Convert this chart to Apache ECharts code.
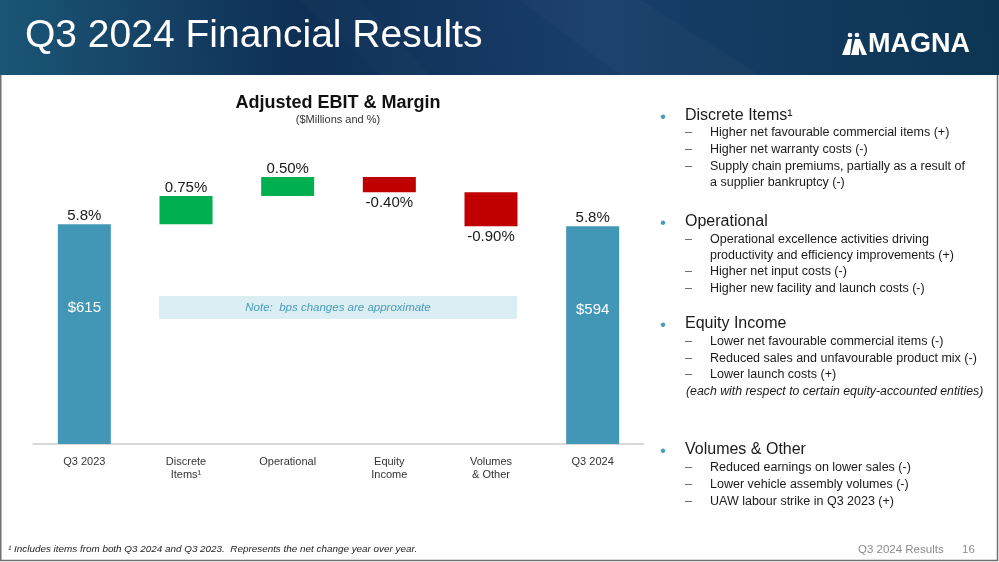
<!DOCTYPE html>
<html><head><meta charset="utf-8">
<script src="https://cdn.jsdelivr.net/npm/echarts@6/dist/echarts.min.js"></script>
<style>html,body{margin:0;padding:0;background:#fff}#c{width:999px;height:562px}</style>
</head><body><div id="c"></div>
<script>
// ---- data ----
const categories = ['Q3 2023', 'Discrete\nItems\u00B9', 'Operational', 'Equity\nIncome', 'Volumes\n& Other', 'Q3 2024'];
const startMargin = 5.8;
const deltas = [0.75, 0.50, -0.40, -0.90];
const endMargin = 5.75;
const marginLabels = ['5.8%', '0.75%', '0.50%', '-0.40%', '-0.90%', '5.8%'];
const ebitLabels = ['$615', '', '', '', '', '$594'];

const FONT = '"Liberation Sans", Arial, sans-serif';
const BLUE = '#4397B6', GREEN = '#00B050', RED = '#C00000';

// build waterfall
const base = [0], vals = [startMargin], colors = [BLUE];
let cum = startMargin;
deltas.forEach(d => {
  if (d >= 0) { base.push(cum); vals.push(d); cum += d; colors.push(GREEN); }
  else { cum += d; base.push(cum); vals.push(-d); colors.push(RED); }
});
base.push(0); vals.push(endMargin); colors.push(BLUE);
const signs = [1].concat(deltas.map(d => d >= 0 ? 1 : -1)).concat([1]);

const mainData = vals.map((v, i) => ({
  value: v,
  itemStyle: { color: colors[i] },
  label: {
    show: true,
    position: signs[i] > 0 ? 'top' : 'bottom',
    distance: signs[i] > 0 ? 1 : 3,
    formatter: marginLabels[i],
    color: '#1a1a1a', fontSize: 15, fontFamily: FONT
  }
}));
const ebitData = ebitLabels.map((t, i) => t ? { value: vals[i], label: { show: true, formatter: t } } : null);

// ---- right panel text ----
const panel = [
  { type: 'h', y: 116, text: 'Discrete Items\u00B9' },
  { type: 's', y: 133, text: 'Higher net favourable commercial items (+)' },
  { type: 's', y: 150, text: 'Higher net warranty costs (-)' },
  { type: 's', y: 167, text: 'Supply chain premiums, partially as a result of' },
  { type: 'c', y: 183, text: 'a supplier bankruptcy (-)' },
  { type: 'h', y: 222, text: 'Operational' },
  { type: 's', y: 240, text: 'Operational excellence activities driving' },
  { type: 'c', y: 256, text: 'productivity and efficiency improvements (+)' },
  { type: 's', y: 272, text: 'Higher net input costs (-)' },
  { type: 's', y: 289, text: 'Higher new facility and launch costs (-)' },
  { type: 'h', y: 324, text: 'Equity Income' },
  { type: 's', y: 342, text: 'Lower net favourable commercial items (-)' },
  { type: 's', y: 359, text: 'Reduced sales and unfavourable product mix (-)' },
  { type: 's', y: 375, text: 'Lower launch costs (+)' },
  { type: 'i', y: 392, text: '(each with respect to certain equity-accounted entities)' },
  { type: 'h', y: 450, text: 'Volumes & Other' },
  { type: 's', y: 468, text: 'Reduced earnings on lower sales (-)' },
  { type: 's', y: 485, text: 'Lower vehicle assembly volumes (-)' },
  { type: 's', y: 502, text: 'UAW labour strike in Q3 2023 (+)' }
];

function txt(x, y, text, font, fill, align, extra) {
  return Object.assign({ type: 'text', x: x, y: y, silent: true,
    style: { text: text, font: font, fill: fill, textAlign: align || 'left', textVerticalAlign: 'middle' } }, extra || {});
}

const graphics = [];
// header
graphics.push({ type: 'rect', shape: { x: 0, y: 0, width: 999, height: 75 }, silent: true,
  style: { fill: new echarts.graphic.LinearGradient(0, 1, 1, 0, [
    { offset: 0, color: '#1b5676' }, { offset: 0.3, color: '#0f2f55' },
    { offset: 0.6, color: '#183e69' }, { offset: 1, color: '#0c3553' }]) } });
graphics.push({ type: 'polygon', silent: true, shape: { points: [[520, 0], [640, 0], [760, 75], [620, 75]] },
  style: { fill: 'rgba(255,255,255,0.025)' } });
graphics.push({ type: 'polygon', silent: true, shape: { points: [[300, 0], [360, 0], [430, 75], [380, 75]] },
  style: { fill: 'rgba(255,255,255,0.015)' } });
graphics.push(txt(25, 36, 'Q3 2024 Financial Results', '39px ' + FONT, '#ffffff'));
// logo
graphics.push({ type: 'polygon', silent: true, shape: { points: [[842, 55], [848, 39], [852, 39], [850, 55]] }, style: { fill: '#fff' } });
graphics.push({ type: 'polygon', silent: true, shape: { points: [[851, 55], [855, 39], [859, 39], [859, 55]] }, style: { fill: '#fff' } });
graphics.push({ type: 'polygon', silent: true, shape: { points: [[856, 39], [860, 39], [867, 55], [862, 55]] }, style: { fill: '#fff' } });
graphics.push({ type: 'circle', silent: true, shape: { cx: 850, cy: 35, r: 2.3 }, style: { fill: '#fff' } });
graphics.push({ type: 'circle', silent: true, shape: { cx: 857, cy: 35, r: 2.3 }, style: { fill: '#fff' } });
graphics.push(txt(868, 45, 'MAGNA', 'bold 27px ' + FONT, '#ffffff'));

// chart titles
graphics.push(txt(338, 103, 'Adjusted EBIT & Margin', 'bold 18px ' + FONT, '#111', 'center'));
graphics.push(txt(338, 120, '($Millions and %)', '11px ' + FONT, '#333', 'center'));

// note box
graphics.push({ type: 'rect', silent: true, shape: { x: 159, y: 296, width: 358, height: 23 }, style: { fill: '#DAEEF3' } });
graphics.push(txt(338, 307.5, 'Note:  bps changes are approximate', 'italic 11.5px ' + FONT, '#4a9bb6', 'center'));

// right panel
panel.forEach(p => {
  if (p.type === 'h') {
    graphics.push(txt(660, p.y + 1, '\u2022', '17px ' + FONT, '#4a9bb6'));
    graphics.push(txt(685, p.y, p.text, '16px ' + FONT, '#1a1a1a'));
  } else if (p.type === 's') {
    graphics.push(txt(685, p.y, '\u2013', '12.5px ' + FONT, '#555'));
    graphics.push(txt(710, p.y, p.text, '12.5px ' + FONT, '#1a1a1a'));
  } else if (p.type === 'c') {
    graphics.push(txt(710, p.y, p.text, '12.5px ' + FONT, '#1a1a1a'));
  } else {
    graphics.push(txt(686, p.y, p.text, 'italic 12.3px ' + FONT, '#1a1a1a'));
  }
});

// footer
graphics.push(txt(8, 549, '\u00B9 Includes items from both Q3 2024 and Q3 2023.  Represents the net change year over year.', 'italic 9.9px ' + FONT, '#222'));
graphics.push(txt(858, 550, 'Q3 2024 Results', '11.5px ' + FONT, '#8c8c8c'));
graphics.push(txt(962, 550, '16', '11.5px ' + FONT, '#8c8c8c'));
// slide border
graphics.push({ type: 'polyline', silent: true, shape: { points: [[0.75, 75], [0.75, 560.5], [997.5, 560.5], [997.5, 75]] },
  style: { stroke: '#707070', lineWidth: 1.5, fill: null } });

const chart = echarts.init(document.getElementById('c'), null, { renderer: 'canvas' });
chart.setOption({
  animation: false,
  backgroundColor: '#ffffff',
  grid: { left: 33.5, right: 355.5, top: 141, bottom: 118 },
  xAxis: {
    type: 'category', data: categories,
    axisLine: { lineStyle: { color: '#D9D9D9', width: 2 } },
    axisTick: { show: false },
    axisLabel: { color: '#333', fontSize: 11, fontFamily: FONT, lineHeight: 12.5, margin: 12, interval: 0 }
  },
  yAxis: { type: 'value', min: 0, max: 8, show: false, splitLine: { show: false } },
  series: [
    { type: 'bar', stack: 'w', data: base, barWidth: 53, itemStyle: { color: 'transparent' }, silent: true },
    { type: 'bar', stack: 'w', data: mainData, barWidth: 53 },
    { type: 'bar', data: ebitData, barWidth: 53, barGap: '-100%', itemStyle: { color: 'transparent' },
      label: { position: 'insideTop', distance: 76, color: '#ffffff', fontSize: 15, fontFamily: FONT } }
  ],
  graphic: graphics
});
</script></body></html>
